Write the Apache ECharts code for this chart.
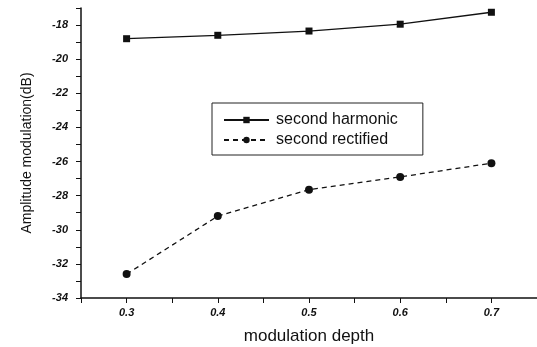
<!DOCTYPE html>
<html><head><meta charset="utf-8">
<script src="https://cdn.jsdelivr.net/npm/echarts@6/dist/echarts.min.js"></script>
<style>html,body{margin:0;padding:0;background:#fff}#c{width:537px;height:347px}</style>
</head><body><div id="c"></div>
<script>
var depths = [0.3, 0.4, 0.5, 0.6, 0.7];
var harmonic = [-18.8, -18.6, -18.35, -17.95, -17.25];
var rectified = [-32.6, -29.2, -27.65, -26.9, -26.1];
var seriesNames = ['second harmonic', 'second rectified'];

var chart = echarts.init(document.getElementById('c'), null, {renderer: 'canvas'});
var axisFont = {fontFamily: 'Liberation Sans', fontSize: 11, fontStyle: 'italic', fontWeight: 'bold', color: '#111'};
chart.setOption({
  animation: false,
  backgroundColor: '#fff',
  grid: {left: 81, top: 8, right: 0, bottom: 49, containLabel: false, outerBoundsMode: 'none'},
  legend: {
    orient: 'vertical', left: 212, top: 103,
    data: seriesNames,
    borderColor: '#222', borderWidth: 1, padding: [9, 25, 7, 11],
    itemWidth: 45, itemHeight: 8, itemGap: 4,
    textStyle: {fontFamily: 'Liberation Sans', fontSize: 16, color: '#111', padding: [0, 0, 0, 2]}
  },
  xAxis: {
    type: 'value', min: 0.25, max: 0.75, interval: 0.05,
    axisLine: {lineStyle: {color: '#111', width: 1.5}},
    axisTick: {show: true, inside: false, length: 5, lineStyle: {color: '#111'}},
    splitLine: {show: false},
    axisLabel: Object.assign({margin: 9, formatter: function (v) {
      var r = Math.round(v * 100);
      return (r % 10 === 0 && r >= 30 && r <= 70) ? (v.toFixed(1)) : '';
    }}, axisFont),
    name: 'modulation depth', nameLocation: 'middle', nameGap: 30,
    nameTextStyle: {fontFamily: 'Liberation Sans', fontSize: 17, color: '#111'}
  },
  yAxis: {
    type: 'value', min: -34, max: -17, interval: 1,
    axisLine: {lineStyle: {color: '#111', width: 1.5}},
    axisTick: {show: true, inside: false, length: 5, lineStyle: {color: '#111'}},
    splitLine: {show: false},
    axisLabel: Object.assign({margin: 13, formatter: function (v) {
      return (Math.round(v) % 2 === 0) ? String(v) : '';
    }}, axisFont),
    name: 'Amplitude modulation(dB)', nameLocation: 'middle', nameGap: 47,
    nameTextStyle: {fontFamily: 'Liberation Sans', fontSize: 14, color: '#111'}
  },
  series: [
    {
      name: seriesNames[0], type: 'line',
      data: depths.map(function (d, i) { return [d, harmonic[i]]; }),
      symbol: 'rect', symbolSize: 7,
      lineStyle: {color: '#111', width: 1.3},
      itemStyle: {color: '#111'}
    },
    {
      name: seriesNames[1], type: 'line',
      data: depths.map(function (d, i) { return [d, rectified[i]]; }),
      symbol: 'circle', symbolSize: 8,
      lineStyle: {color: '#111', width: 1.3, type: [5, 4]},
      itemStyle: {color: '#111'}
    }
  ]
});
</script></body></html>
